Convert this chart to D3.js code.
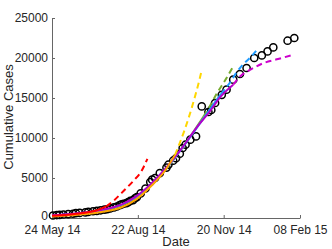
<!DOCTYPE html>
<html lang="en">
<head>
    <meta charset="UTF-8">
    <title>Cumulative Cases</title>
    <script src="https://d3js.org/d3.v7.min.js"></script>
    <style>
        body { margin: 0; overflow: hidden; background: #fff; }
        text { font-family: "Liberation Sans", Arial, sans-serif; fill: #262626; }
        .axis path, .axis line { stroke: #666; }
    </style>
</head>
<body>
<script>
    // observed cumulative cases
    const caseDates = ["2014-05-25","2014-05-29","2014-06-01","2014-06-05","2014-06-10","2014-06-15","2014-06-18","2014-06-22",
        "2014-06-28","2014-07-01","2014-07-06","2014-07-10","2014-07-14","2014-07-18","2014-07-21","2014-07-24","2014-07-28",
        "2014-07-31","2014-08-03","2014-08-05","2014-08-07","2014-08-10","2014-08-12","2014-08-14","2014-08-17","2014-08-19",
        "2014-08-21","2014-08-25","2014-08-30","2014-09-04","2014-09-06","2014-09-09","2014-09-14","2014-09-21","2014-09-23",
        "2014-09-28","2014-10-01","2014-10-05","2014-10-08","2014-10-11","2014-10-16","2014-10-22","2014-10-28","2014-11-04",
        "2014-11-07","2014-11-11","2014-11-18","2014-11-23","2014-11-30","2014-12-07","2014-12-14","2014-12-22","2014-12-30",
        "2015-01-05","2015-01-11","2015-01-26","2015-02-02"];
    const caseCounts = [310, 370, 390, 440, 475, 530, 600, 635,
        700, 760, 845, 890, 965, 1050, 1095, 1200, 1325,
        1440, 1600, 1710, 1780, 1850, 1975, 2130, 2240, 2470,
        2615, 3070, 3685, 4500, 4790, 5000, 5600, 6300, 6660,
        7160, 7470, 8030, 8750, 9160, 9790, 10200, 13950, 13250,
        13500, 14375, 15400, 16040, 17290, 18000, 18750, 20000, 20325,
        20825, 21325, 22160, 22500];

    // model fits (solid) and projections (dashed)
    const redFit = [["2014-05-24",280],["2014-06-10",420],["2014-06-25",620],["2014-07-08",900],["2014-07-20",1450]];
    const redProj = [["2014-07-20",1450],["2014-07-28",2200],["2014-08-08",3500],["2014-08-17",4600],["2014-08-26",5900],["2014-09-01",7400]];
    const orangeFit = [["2014-05-24",200],["2014-06-20",420],["2014-07-15",750],["2014-08-05",1350],["2014-08-20",2300],["2014-09-05",4000],["2014-09-20",6000],["2014-09-30",7900]];
    const goldProj = [["2014-09-30",7900],["2014-10-05",9400],["2014-10-10",11000],["2014-10-15",12800],["2014-10-20",14800],["2014-10-25",17000],["2014-10-28",18500]];
    const greenFit = [["2014-05-24",300],["2014-06-20",540],["2014-07-15",920],["2014-08-05",1600],["2014-08-20",2550],["2014-09-05",4150],["2014-09-20",6050],["2014-10-05",8350],["2014-10-20",10900],["2014-10-30",12700]];
    const greenProj = [["2014-10-30",12700],["2014-11-06",14100],["2014-11-13",15600],["2014-11-22",17300],["2014-11-29",18750]];
    const blueFit = [["2014-05-24",320],["2014-06-20",560],["2014-07-15",950],["2014-08-05",1650],["2014-08-20",2600],["2014-09-05",4200],["2014-09-20",6100],["2014-10-05",8350],["2014-10-20",10800],["2014-11-05",13500],["2014-11-17",15500]];
    const blueProj = [["2014-11-17",15500],["2014-11-27",17000],["2014-12-03",18100],["2014-12-10",19150],["2014-12-19",20200],["2014-12-24",20900]];
    const magentaFit = [["2014-05-24",340],["2014-06-20",600],["2014-07-15",1000],["2014-08-05",1700],["2014-08-20",2700],["2014-09-05",4300],["2014-09-20",6200],["2014-10-05",8400],["2014-10-25",11660],["2014-11-05",13250],["2014-11-17",15200],["2014-11-30",16660]];
    const magentaProj = [["2014-11-30",16660],["2014-12-08",17790],["2014-12-18",18540],["2015-01-01",19375],["2015-01-16",19875],["2015-02-01",20410]];

    const xTicks = ["2014-05-24","2014-08-22","2014-11-20","2015-02-08"];
    const yTicks = [0, 5000, 10000, 15000, 20000, 25000];

    const parse = d3.timeParse("%Y-%m-%d");
    const width = 332, height = 249;

    const svg = d3.select("body").append("svg")
        .attr("width", width)
        .attr("height", height);

    const x = d3.scaleTime()
        .domain([parse(xTicks[0]), parse(xTicks[xTicks.length - 1])])
        .range([52, 300]);
    const y = d3.scaleLinear()
        .domain([0, 25000])
        .range([218, 18]);

    // axes (MATLAB style, ticks inward)
    svg.append("g")
        .attr("class", "axis")
        .attr("transform", "translate(0,218)")
        .call(d3.axisBottom(x).tickValues(xTicks.map(parse)).tickFormat(d3.timeFormat("%d %b %y"))
            .tickSizeInner(-3).tickSizeOuter(0).tickPadding(7))
        .call(g => g.selectAll("text").attr("font-size", 12).attr("font-family", "Liberation Sans, Arial, sans-serif").attr("fill", "#262626"));

    svg.append("g")
        .attr("class", "axis")
        .attr("transform", "translate(52,0)")
        .call(d3.axisLeft(y).tickValues(yTicks).tickFormat(d3.format("d"))
            .tickSizeInner(-3).tickSizeOuter(0).tickPadding(4))
        .call(g => g.selectAll("text").attr("font-size", 12).attr("font-family", "Liberation Sans, Arial, sans-serif").attr("fill", "#262626"))
        .call(g => g.selectAll("text").filter(d => d === 0).attr("dy", "0.15em")); // keep clear of the first date label

    svg.append("text")
        .attr("x", 176).attr("y", 246)
        .attr("text-anchor", "middle")
        .attr("font-size", 13)
        .text("Date");

    svg.append("text")
        .attr("transform", "translate(13,117) rotate(-90)")
        .attr("text-anchor", "middle")
        .attr("font-size", 13)
        .text("Cumulative Cases");

    // data points
    svg.append("g")
        .selectAll("circle")
        .data(caseDates.map((d, i) => [parse(d), caseCounts[i]]))
        .enter().append("circle")
        .attr("cx", d => x(d[0]))
        .attr("cy", d => y(d[1]))
        .attr("r", 3.6)
        .attr("fill", "none")
        .attr("stroke", "#000")
        .attr("stroke-width", 1.5);

    const line = d3.line()
        .x(d => x(parse(d[0])))
        .y(d => y(d[1]))
        .curve(d3.curveMonotoneX);

    const series = [
        { pts: greenFit, color: "#77AC30", dash: null },
        { pts: greenProj, color: "#77AC30", dash: "6,4" },
        { pts: blueFit, color: "#1E90FF", dash: null },
        { pts: blueProj, color: "#1E9BFF", dash: "6,4" },
        { pts: magentaFit, color: "#B400C8", dash: null },
        { pts: magentaProj, color: "#CC00CC", dash: "6,4" },
        { pts: orangeFit, color: "#FFA500", dash: null },
        { pts: goldProj, color: "#FFD700", dash: "6,4" },
        { pts: redFit, color: "#FF0000", dash: null },
        { pts: redProj, color: "#FF0000", dash: "6,4" }
    ];

    svg.append("g")
        .selectAll("path")
        .data(series)
        .enter().append("path")
        .attr("d", d => line(d.pts))
        .attr("fill", "none")
        .attr("stroke", d => d.color)
        .attr("stroke-width", 2)
        .attr("stroke-dasharray", d => d.dash);
</script>
</body>
</html>
